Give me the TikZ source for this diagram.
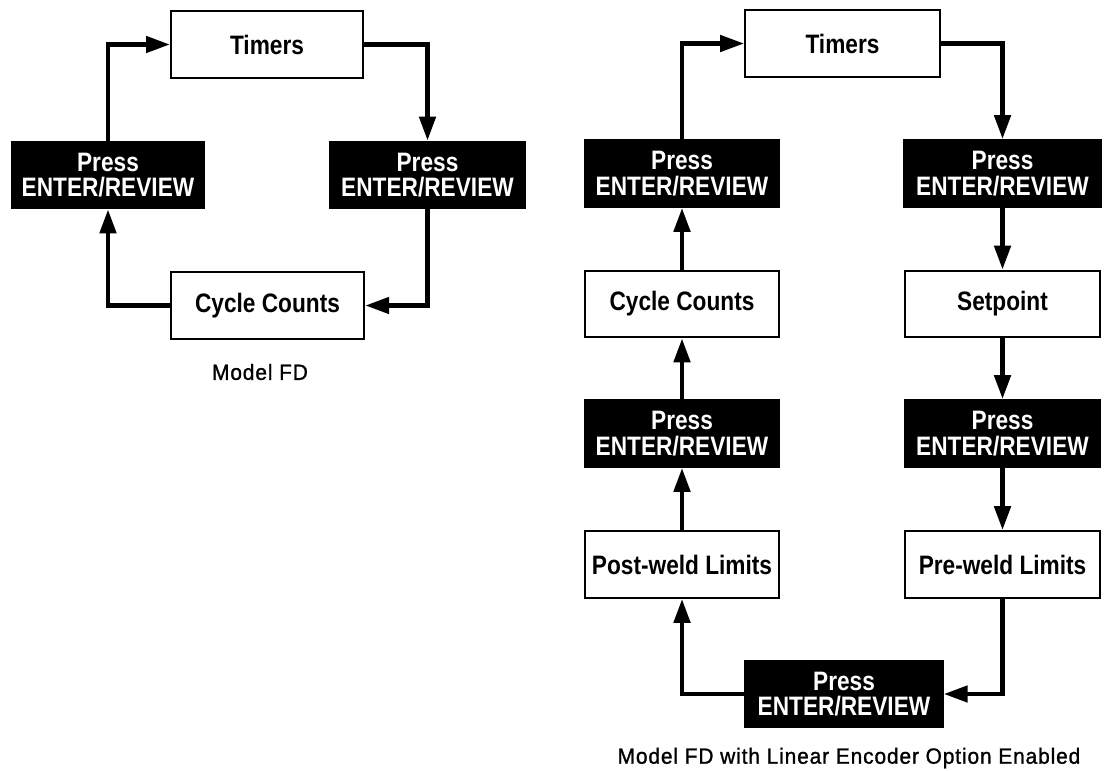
\documentclass[tikz,border=0pt]{standalone}
\usepackage{fontspec}
\usetikzlibrary{arrows.meta}
\newfontfamily\boxfont[FakeStretch=0.85]{Liberation Sans}
\newfontfamily\capfont[FakeStretch=0.95,LetterSpace=4,FakeBold=1.2]{Liberation Sans}
\begin{document}
\begin{tikzpicture}[x=0.75pt,y=-0.75pt,
  wbox/.style={draw=black,line width=1.5pt,fill=white,inner sep=0pt,
    minimum height=50pt,align=center,font=\boxfont\bfseries\fontsize{20}{19}\selectfont},
  bbox/.style={wbox,fill=black,text=white},
  arr/.style={line width=3.5pt,-{Triangle[length=18pt,width=12pt]}},
  captxt/.style={font=\capfont\fontsize{16.5}{18}\selectfont}]
\useasboundingbox (0,0) rectangle (1105,770);
% ---- left diagram ----
\node[wbox,minimum width=144pt] (T1) at (267,44.5) {Timers};
\node[bbox,minimum width=144pt] (P1L) at (108,175) {Press\\ENTER/REVIEW};
\node[bbox,minimum width=146pt] (P1R) at (427.5,175) {Press\\ENTER/REVIEW};
\node[wbox,minimum width=145pt] (C1) at (267.5,305.5) {Cycle Counts};
\node[captxt] (cap1) at (260,372) {Model FD};
\draw[arr] (P1L.north) |- (T1.west);
\draw[arr] (T1.east) -| (P1R.north);
\draw[arr] (P1R.south) |- (C1.east);
\draw[arr] (C1.west) -| (P1L.south);
% ---- right diagram ----
\node[wbox,minimum width=146pt] (T2) at (842.5,43.5) {Timers};
\node[bbox,minimum width=146pt] (P2L) at (682,173.5) {Press\\ENTER/REVIEW};
\node[bbox,minimum width=148pt] (P2R) at (1002.5,173.5) {Press\\ENTER/REVIEW};
\node[wbox,minimum width=146pt] (C2) at (682,304) {Cycle Counts};
\node[wbox,minimum width=146pt] (S2) at (1002.5,304) {Setpoint};
\node[bbox,minimum width=146pt] (P3L) at (682,433.5) {Press\\ENTER/REVIEW};
\node[bbox,minimum width=146pt] (P3R) at (1002.5,433.5) {Press\\ENTER/REVIEW};
\node[wbox,minimum width=146pt] (PW) at (682,564.5) {Post-weld Limits};
\node[wbox,minimum width=146pt] (PRW) at (1002.5,564.5) {Pre-weld Limits};
\node[bbox,minimum width=148pt] (PB) at (844,694) {Press\\ENTER/REVIEW};
\node[captxt] (cap2) at (849,758) {Model FD with Linear Encoder Option Enabled};
\draw[arr] (P2L.north) |- (T2.west);
\draw[arr] (T2.east) -| (P2R.north);
\draw[arr] (P2R.south) -- (S2.north);
\draw[arr] (S2.south) -- (P3R.north);
\draw[arr] (P3R.south) -- (PRW.north);
\draw[arr] (PRW.south) |- (PB.east);
\draw[arr] (PB.west) -| (PW.south);
\draw[arr] (PW.north) -- (P3L.south);
\draw[arr] (P3L.north) -- (C2.south);
\draw[arr] (C2.north) -- (P2L.south);
\end{tikzpicture}
\end{document}
